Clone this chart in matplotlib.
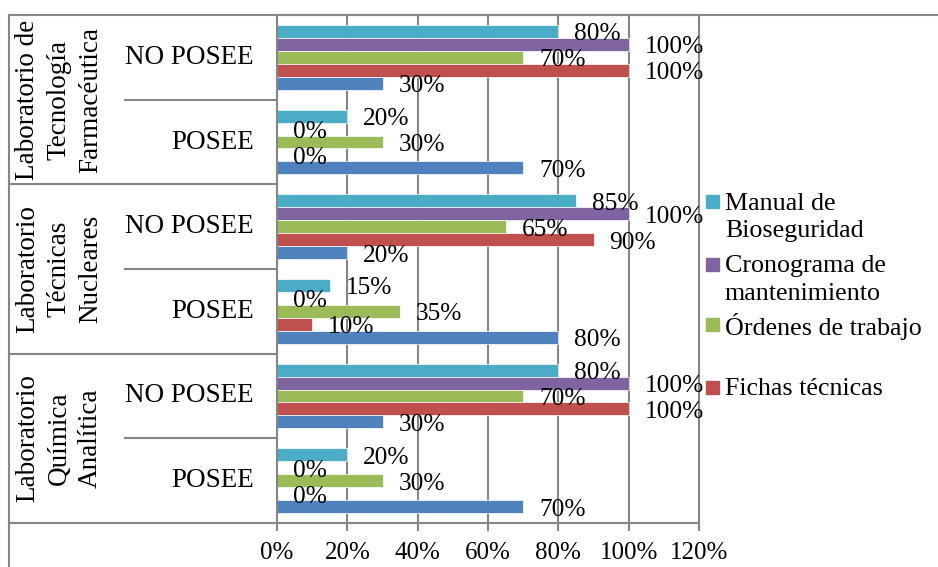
import matplotlib.pyplot as plt
from matplotlib.lines import Line2D
from matplotlib.patches import Rectangle
from matplotlib.ticker import PercentFormatter
from matplotlib.transforms import blended_transform_factory

plt.rcParams['font.family'] = ['Liberation Serif', 'DejaVu Serif']

# categories listed top to bottom
labs = ["Laboratorio de\nTecnología\nFarmacéutica",
        "Laboratorio\nTécnicas\nNucleares",
        "Laboratorio\nQuímica\nAnalítica"]
estados = ["NO POSEE", "POSEE"]

series_names = ["Manual de\nBioseguridad", "Cronograma de\nmantenimiento",
                "Órdenes de trabajo", "Fichas técnicas", None]
manual = [80, 20, 85, 15, 80, 20]
cronograma = [100, 0, 100, 0, 100, 0]
ordenes = [70, 30, 65, 35, 70, 30]
fichas = [100, 0, 90, 10, 100, 0]
otros = [30, 70, 20, 80, 30, 70]

colors = ["#4BACC6", "#8064A2", "#9BBB59", "#C0504D", "#4F81BD"]
grid_color = "#868686"

W, H = 938, 567
fig = plt.figure(figsize=(W / 100, H / 100), dpi=100)
ax = fig.add_axes([277 / W, 1 - 523 / H, (699 - 277) / W, (523 - 15) / H])

n_rows = len(labs) * len(estados)
centers = [n_rows - 0.5 - i for i in range(n_rows)]
h = 0.1535
offsets = [2 * h, h, 0, -h, -2 * h]

for vals, off, col in zip([manual, cronograma, ordenes, fichas, otros], offsets, colors):
    ys = [c + off for c in centers]
    ax.barh(ys, vals, height=h, color=col, edgecolor="white", linewidth=0.5, zorder=2)
    for y, v in zip(ys, vals):
        ax.annotate(f"{v}%", xy=(v, y), xytext=(16, -3), textcoords="offset pixels",
                    ha="left", va="center", fontsize=18.3)

ax.set_xlim(0, 120)
ax.set_ylim(0, n_rows)
ax.set_xticks(range(0, 121, 20))
ax.xaxis.set_major_formatter(PercentFormatter(xmax=100, decimals=0))
ax.set_yticks([])
ax.tick_params(axis="x", length=6, width=1.5, color=grid_color, pad=8, labelsize=18)
ax.xaxis.grid(True, color=grid_color, linewidth=1.5)
ax.set_axisbelow(True)
for sp in ax.spines.values():
    sp.set_color(grid_color)
    sp.set_linewidth(1.5)

# category table on the left
trans = blended_transform_factory(fig.transFigure, ax.transData)
for y in [0, 2, 4]:
    fig.add_artist(Line2D([9 / W, 277 / W], [y, y], transform=trans,
                          color=grid_color, lw=1.5))
for y in [1, 3, 5]:
    fig.add_artist(Line2D([125 / W, 277 / W], [y, y], transform=trans,
                          color=grid_color, lw=1.5))
for i, lab in enumerate(labs):
    fig.text(59 / W, n_rows - 1 - 2 * i, lab, transform=trans, rotation=90,
             ha="center", va="center", multialignment="center",
             linespacing=1.35, fontsize=19.5)
for i, c in enumerate(centers):
    fig.text(254 / W, c, estados[i % 2], transform=trans,
             ha="right", va="center", fontsize=19.5)

# chart border
fig.add_artist(Line2D([9 / W, 1], [1 - 15 / H, 1 - 15 / H], color=grid_color, lw=1.5))
fig.add_artist(Line2D([9 / W, 9 / W], [0, 1 - 15 / H], color=grid_color, lw=1.5))

# legend
legend_y = [217.5, 280, 326, 389]
for name, col, ly in zip(series_names, colors, legend_y):
    first_line = ly if "\n" not in name else ly - 14.5
    fig.add_artist(Rectangle((706 / W, 1 - (first_line + 5) / H), 13 / W, 13 / H,
                             transform=fig.transFigure, color=col))
    fig.text(725 / W, 1 - ly / H, name, ha="left", va="center",
             linespacing=1.35, fontsize=18.7)

fig.savefig("out.png", dpi=100)
